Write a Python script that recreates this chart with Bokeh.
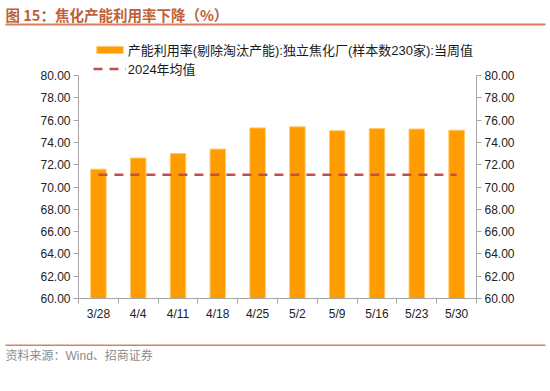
import numpy as np
from bokeh.plotting import figure
from bokeh.models import (Range1d, LinearAxis, FixedTicker, NumeralTickFormatter,
                          BoxAnnotation, Legend, LegendItem, ColumnDataSource)
from bokeh.core.properties import value
from bokeh.embed import file_html
from bokeh.resources import INLINE

# ---- data ----
dates = ["3/28", "4/4", "4/11", "4/18", "4/25", "5/2", "5/9", "5/16", "5/23", "5/30"]
utilization = [71.6, 72.6, 73.0, 73.4, 75.3, 75.4, 75.05, 75.25, 75.2, 75.1]
avg_2024 = 71.1
y_ticks = [60, 62, 64, 66, 68, 70, 72, 74, 76, 78, 80]

title_text = "图 15：焦化产能利用率下降（%）"
series1_name = "产能利用率(剔除淘汰产能):独立焦化厂(样本数230家):当周值"
series2_name = "2024年均值"
source_text = "资料来源：Wind、招商证券"

FONT = "Liberation Sans, Noto Sans CJK SC"
CJK = "Noto Sans CJK SC"
RULE = "#D98060"
AX = "#A6A6A6"

W, H = 550, 391
# plotting area (pixels on the canvas)
PL, PR, PT, PB = 78.0, 476.0, 75.0, 298.0

n = len(dates)
ymin, ymax = y_ticks[0], y_ticks[-1]
sx = (PR - PL) / n
sy = (PB - PT) / (ymax - ymin)
x_range = Range1d(-PL / sx, n + (W - PR) / sx)
y_range = Range1d(ymin - (H - PB) / sy, ymax + PT / sy)

p = figure(width=W, height=H, output_backend="svg", toolbar_location=None,
           x_range=x_range, y_range=y_range, min_border=0)
p.outline_line_color = None
p.grid.visible = False
p.background_fill_color = "white"
p.border_fill_color = "white"
p.extra_x_ranges = {"px": Range1d(0, W)}
p.extra_y_ranges = {"py": Range1d(H, 0)}

centers = [i + 0.5 for i in range(n)]
bounds = [float(i) for i in range(n + 1)]

xa = p.xaxis[0]
xa.fixed_location = ymin
xa.bounds = (0, n)
xa.ticker = FixedTicker(ticks=centers, minor_ticks=bounds)
xa.major_label_overrides = {c: d for c, d in zip(centers, dates)}
xa.major_tick_line_color = None
xa.major_tick_out = 0
xa.minor_tick_line_color = AX
xa.minor_tick_out = 5
xa.minor_tick_in = 0
xa.axis_line_color = AX
xa.major_label_standoff = 3
xa.major_label_text_font = FONT
xa.major_label_text_font_size = "12px"
xa.major_label_text_color = "#222222"


def style_y(a, loc):
    a.fixed_location = loc
    a.bounds = (ymin, ymax)
    a.ticker = FixedTicker(ticks=y_ticks, minor_ticks=[])
    a.formatter = NumeralTickFormatter(format="0.00")
    a.axis_line_color = AX
    a.major_tick_line_color = AX
    a.major_tick_out = 5
    a.major_tick_in = 0
    a.minor_tick_line_color = None
    a.major_label_standoff = 3
    a.major_label_text_font = FONT
    a.major_label_text_font_size = "12px"
    a.major_label_text_color = "#222222"

style_y(p.yaxis[0], 0)
ra = LinearAxis()
style_y(ra, n)
p.add_layout(ra, "right")

src = ColumnDataSource(dict(x=centers, top=utilization))
bars = p.vbar(x="x", top="top", bottom=ymin, width=0.39, source=src,
              fill_color="#FF9C00", line_color="#FFCB70", line_width=1)

avg_line = p.line(x=[centers[0], centers[-1]], y=[avg_2024, avg_2024],
                  line_color="#C0504D", line_width=2.5, line_dash="9 7")

legend = Legend(items=[LegendItem(label=series1_name, renderers=[bars]),
                       LegendItem(label=series2_name, renderers=[avg_line])],
                location=(92.7, H - 77.5), orientation="vertical")
legend.border_line_color = None
legend.background_fill_alpha = 0
legend.padding = 0
legend.margin = 0
legend.spacing = 0
legend.glyph_width = 33
legend.glyph_height = 9
legend.label_height = 19
legend.label_standoff = 2
legend.label_text_font = FONT
legend.label_text_font_size = "13px"
legend.label_text_color = "#1a1a1a"
p.add_layout(legend, "center")

# ---- title, rules, source (pixel ranges) ----
p.text(x=[5], y=[14], text=[title_text], text_baseline="middle",
       text_font=value(CJK), text_font_size="14.5px", text_font_style="bold",
       text_color="#C0603A", x_range_name="px", y_range_name="py")
p.add_layout(BoxAnnotation(left=5, right=545, top=23, bottom=25,
                           x_range_name="px", y_range_name="py",
                           fill_color=RULE, fill_alpha=1, line_color=None))
p.add_layout(BoxAnnotation(left=5, right=545, top=344, bottom=345.5,
                           x_range_name="px", y_range_name="py",
                           fill_color=RULE, fill_alpha=1, line_color=None))
p.text(x=[5], y=[355], text=[source_text], text_baseline="middle",
       text_font=value(FONT), text_font_size="12px", text_color="#8C8C8C",
       x_range_name="px", y_range_name="py")

open("out.html", "w").write(file_html(p, INLINE))
